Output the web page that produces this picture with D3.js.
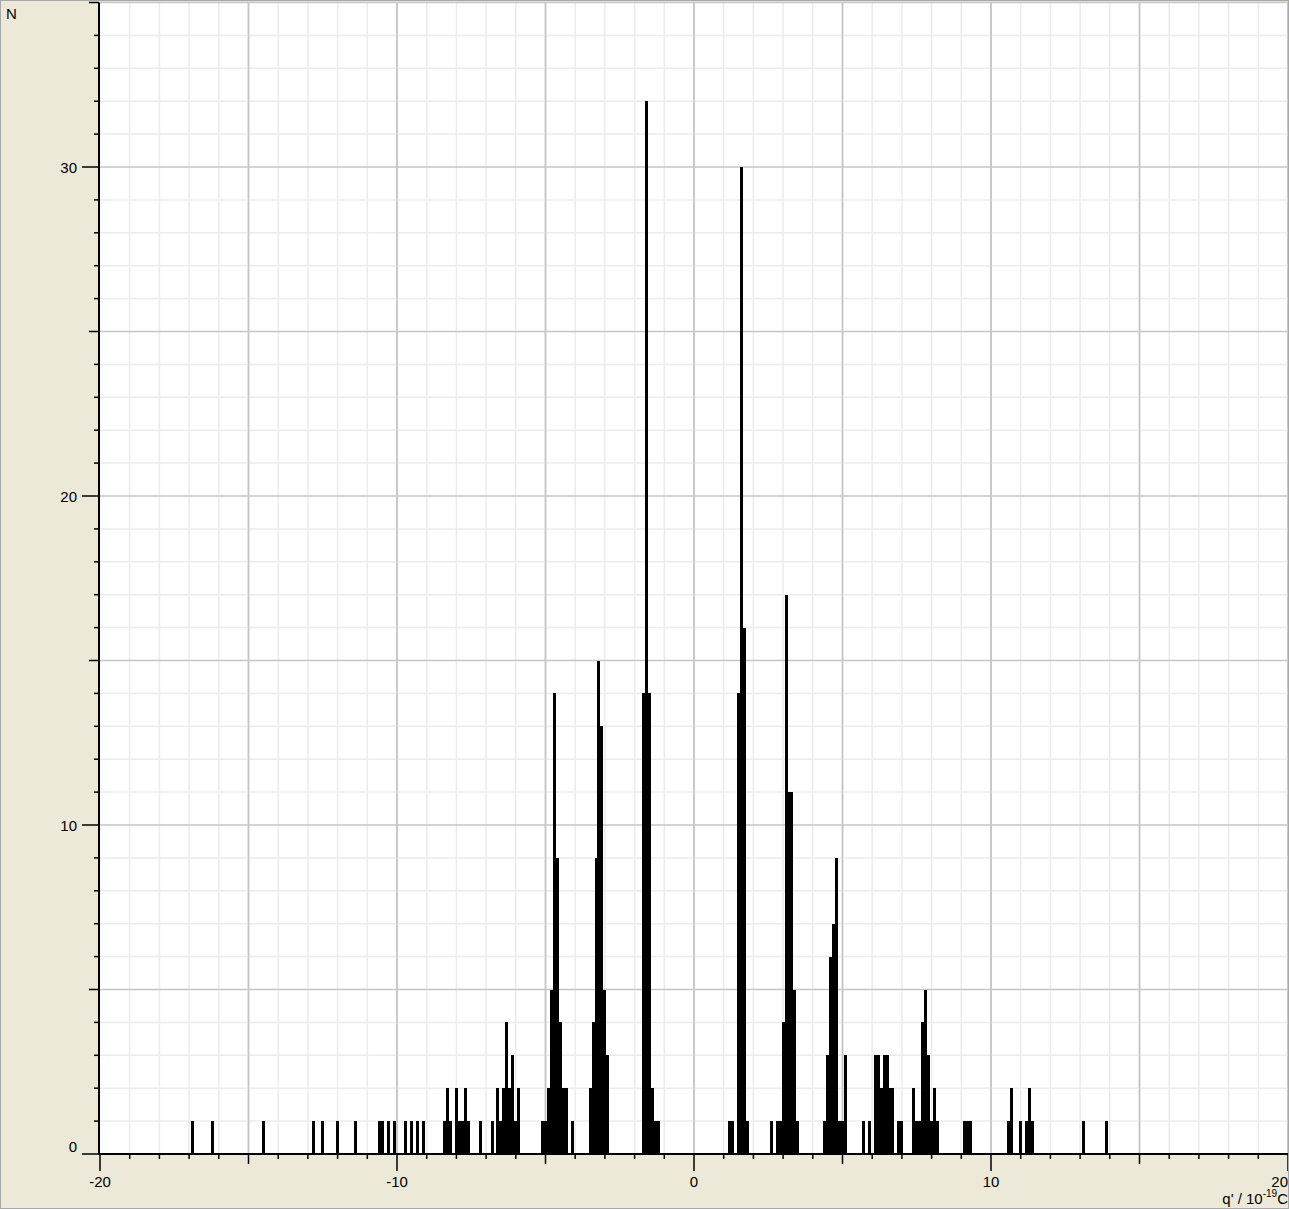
<!DOCTYPE html>
<html>
<head>
<meta charset="utf-8">
<script src="https://cdn.jsdelivr.net/npm/d3@7"></script>
<style>
  html, body { margin: 0; padding: 0; background: #ECE9D8; }
  svg { display: block; }
  text { font-family: "Liberation Sans", Arial, sans-serif; font-size: 15px; fill: #000; }
</style>
</head>
<body>
<div id="chart"></div>
<script>
'use strict';

// histogram of q' (10^-19 C): bin centres (bin width 0.1) and counts N
const binCenters = [
  -16.9, -16.2, -14.5, -12.8, -12.5, -12.0, -11.4,
  -10.6, -10.5, -10.3, -10.1, -9.7, -9.5, -9.3, -9.1,
  -8.4, -8.3, -8.2, -8.0, -7.9, -7.8, -7.7, -7.6, -7.2,
  -6.8, -6.6, -6.5, -6.4, -6.3, -6.2, -6.1, -6.0, -5.9,
  -5.1, -5.0, -4.9, -4.8, -4.7, -4.6, -4.5, -4.4, -4.3, -4.1,
  -3.5, -3.4, -3.3, -3.2, -3.1, -3.0, -2.9,
  -1.7, -1.6, -1.5, -1.4, -1.3, -1.2,
  1.2, 1.3, 1.5, 1.6, 1.7, 1.8,
  2.6, 2.8, 2.9, 3.0, 3.1, 3.2, 3.3, 3.4, 3.5,
  4.4, 4.5, 4.6, 4.7, 4.8, 4.9, 5.0, 5.1,
  5.7, 5.9, 6.1, 6.2, 6.3, 6.4, 6.5, 6.6, 6.7, 6.9, 7.0,
  7.4, 7.5, 7.6, 7.7, 7.8, 7.9, 8.0, 8.1, 8.2,
  9.1, 9.2, 9.3, 10.6, 10.7, 11.0, 11.2, 11.3, 11.4, 13.1, 13.9
];
const binCounts = [
  1, 1, 1, 1, 1, 1, 1,
  1, 1, 1, 1, 1, 1, 1, 1,
  1, 2, 1, 2, 1, 1, 2, 1, 1,
  1, 2, 1, 2, 4, 2, 3, 1, 2,
  1, 1, 2, 5, 14, 9, 4, 2, 2, 1,
  2, 4, 9, 15, 13, 5, 3,
  14, 32, 14, 2, 1, 1,
  1, 1, 14, 30, 16, 1,
  1, 1, 1, 4, 17, 11, 11, 5, 1,
  1, 3, 6, 7, 9, 1, 1, 3,
  1, 1, 3, 3, 2, 3, 3, 2, 2, 1, 1,
  2, 1, 1, 4, 5, 3, 1, 2, 1,
  1, 1, 1, 1, 2, 1, 1, 2, 1, 1, 1
];
const binWidth = 0.1;

const xTickLabels = [-20, -10, 0, 10, 20];
const yTickLabels = [0, 10, 20, 30];

const width = 1289;
const height = 1209;

const x = d3.scaleLinear().domain([-20, 20]).range([100, 1288]);
const y = d3.scaleLinear().domain([0, 35]).range([1154, 2.5]);

const svg = d3.select("#chart").append("svg")
    .attr("width", width)
    .attr("height", height);

// background + plot area
svg.append("rect")
    .attr("width", width).attr("height", height)
    .attr("fill", "#ECE9D8");
svg.append("rect")
    .attr("x", x(-20)).attr("y", y(35))
    .attr("width", x(20) - x(-20)).attr("height", y(0) - y(35))
    .attr("fill", "#fff");

// grid, light every unit, darker every 5
const grid = svg.append("g").attr("stroke-width", 1.5);
grid.selectAll(".vx")
    .data(d3.range(-19, 21))
    .join("line")
    .attr("x1", d => x(d)).attr("x2", d => x(d))
    .attr("y1", y(35)).attr("y2", y(0))
    .attr("stroke", d => d % 5 === 0 ? "#c6c6c6" : "#ececec");
grid.selectAll(".hy")
    .data(d3.range(1, 36))
    .join("line")
    .attr("x1", x(-20)).attr("x2", x(20))
    .attr("y1", d => y(d)).attr("y2", d => y(d))
    .attr("stroke", d => d % 5 === 0 ? "#c6c6c6" : "#ececec");
// vertical lines on top of horizontal ones where major
grid.selectAll(".vx5")
    .data(d3.range(-15, 21, 5))
    .join("line")
    .attr("x1", d => x(d)).attr("x2", d => x(d))
    .attr("y1", y(35)).attr("y2", y(0))
    .attr("stroke", "#c6c6c6");

// bars
svg.append("g")
    .attr("fill", "#000")
    .attr("shape-rendering", "crispEdges")
    .selectAll("rect")
    .data(d3.zip(binCenters, binCounts))
    .join("rect")
    .attr("x", d => x(d[0] - binWidth / 2))
    .attr("width", d => x(d[0] + binWidth / 2) - x(d[0] - binWidth / 2))
    .attr("y", d => y(d[1]))
    .attr("height", d => y(0) - y(d[1]));

// ticks: minor every 1, medium every 5, long on labels
function tickLen(v) {
    if (v % 10 === 0) return 17;
    if (v % 5 === 0) return 10;
    return 5;
}
const axes = svg.append("g").attr("stroke", "#000");
axes.selectAll(".xt")
    .data(d3.range(-20, 21))
    .join("line")
    .attr("x1", d => x(d)).attr("x2", d => x(d))
    .attr("y1", y(0)).attr("y2", d => y(0) + tickLen(d))
    .attr("stroke-width", 1.5);
axes.selectAll(".yt")
    .data(d3.range(0, 36))
    .join("line")
    .attr("x1", 99).attr("x2", d => 99 - tickLen(d))
    .attr("y1", d => y(d)).attr("y2", d => y(d))
    .attr("stroke-width", 1.5);
axes.append("line")
    .attr("x1", 99).attr("x2", 99)
    .attr("y1", y(35)).attr("y2", y(0) + 1)
    .attr("stroke-width", 2);
axes.append("line")
    .attr("x1", 98).attr("x2", x(20))
    .attr("y1", y(0)).attr("y2", y(0))
    .attr("stroke-width", 2);

// tick labels
svg.selectAll(".ylab")
    .data(yTickLabels)
    .join("text")
    .attr("x", 77)
    .attr("y", d => Math.min(y(d) + 5.5, 1152))
    .attr("text-anchor", "end")
    .text(d => d);

svg.selectAll(".xlab")
    .data(xTickLabels)
    .join("text")
    .attr("x", d => x(d))
    .attr("y", 1187)
    .attr("text-anchor", "middle")
    .text(d => d)
    .each(function (d) {
        const w = this.getComputedTextLength();
        if (x(d) + w / 2 > width - 1) {
            d3.select(this).attr("x", width - 1).attr("text-anchor", "end");
        }
    });

// axis names
svg.append("text").attr("x", 6).attr("y", 19).text("N");
const xt = svg.append("text")
    .attr("x", width - 1)
    .attr("y", 1204)
    .attr("text-anchor", "end");
xt.append("tspan").text("q' / 10");
xt.append("tspan").attr("dy", -7).attr("font-size", "10px").text("-19");
xt.append("tspan").attr("dy", 7).text("C");

// window frame
svg.append("rect")
    .attr("x", 0.5).attr("y", 0.5)
    .attr("width", width - 1).attr("height", height - 1)
    .attr("fill", "none")
    .attr("stroke", "#a8a8a8");
</script>
</body>
</html>
